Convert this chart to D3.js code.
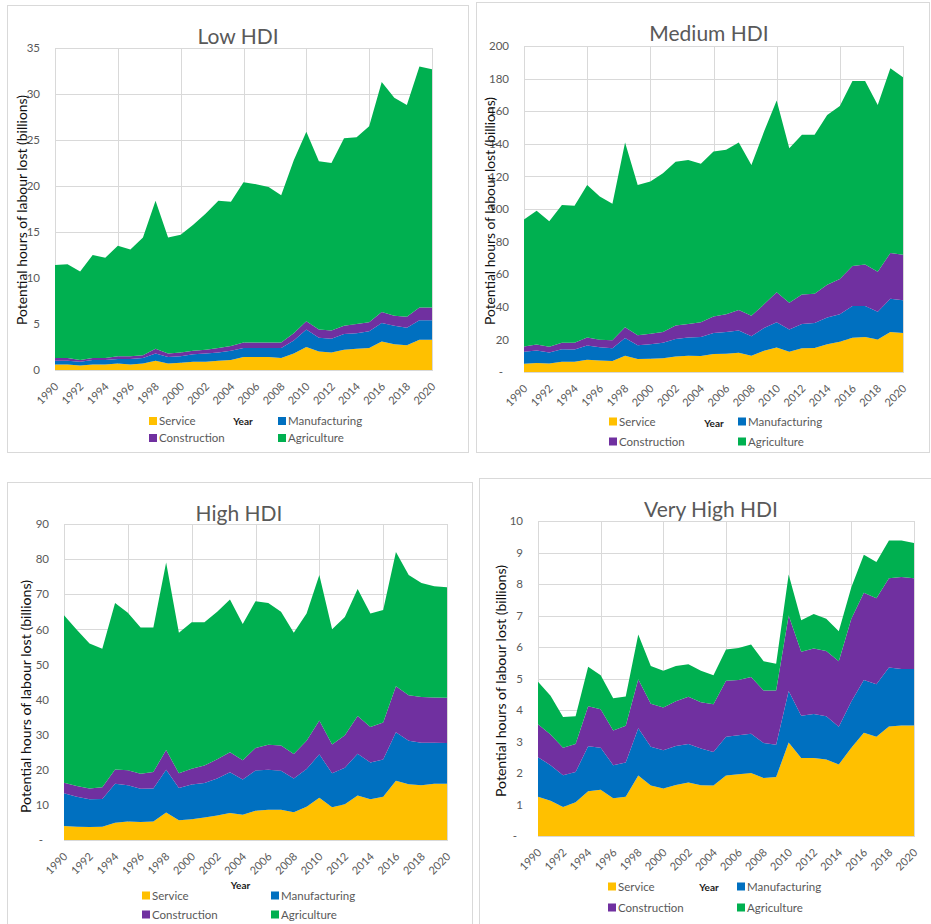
<!DOCTYPE html>
<html>
<head>
<meta charset="utf-8">
<script src="https://cdn.jsdelivr.net/npm/d3@7"></script>
<style>
  body { margin: 0; background: #fff; }
  svg { display: block; }
  text { font-family: Lato, "Noto Sans", "Liberation Sans", sans-serif; }
</style>
</head>
<body>
<svg id="chart" width="931" height="924"></svg>
<script>
// ---------- DATA ----------
const years = [1990,1991,1992,1993,1994,1995,1996,1997,1998,1999,2000,2001,2002,2003,2004,2005,
               2006,2007,2008,2009,2010,2011,2012,2013,2014,2015,2016,2017,2018,2019,2020];
const xTickYears = [1990,1992,1994,1996,1998,2000,2002,2004,2006,2008,2010,2012,2014,2016,2018,2020];
const seriesNames = ["Service", "Manufacturing", "Construction", "Agriculture"];

// Low HDI (billions of hours)
const lowService       = [0.6,0.6,0.5,0.6,0.6,0.7,0.6,0.7,1.0,0.7,0.8,0.9,0.9,1.0,1.1,1.4,1.4,1.4,1.3,1.8,2.5,2.0,1.9,2.2,2.3,2.4,3.1,2.8,2.7,3.3,3.3];
const lowManufacturing = [0.4,0.4,0.4,0.5,0.5,0.5,0.6,0.6,0.8,0.7,0.7,0.8,0.9,0.9,1.0,1.0,1.0,1.0,1.1,1.4,1.9,1.5,1.5,1.7,1.7,1.8,2.0,2.0,1.9,2.1,2.1];
const lowConstruction  = [0.3,0.3,0.2,0.2,0.2,0.3,0.3,0.3,0.5,0.4,0.4,0.4,0.4,0.5,0.5,0.6,0.6,0.6,0.6,0.8,0.9,0.9,0.9,0.9,1.0,1.0,1.2,1.1,1.2,1.4,1.4];
const lowAgriculture   = [10.1,10.2,9.6,11.2,10.9,12.0,11.6,12.8,16.1,12.6,12.8,13.7,14.8,16.0,15.7,17.4,17.2,16.9,16.0,18.8,20.6,18.3,18.2,20.4,20.3,21.3,25.0,23.7,23.0,26.2,25.9];

// Medium HDI
const medService       = [5.1,5.5,5.2,6.3,6.3,7.5,7.0,6.8,10.0,8.0,8.2,8.5,9.5,10.0,9.8,11.0,11.2,11.8,10.0,13.0,15.0,12.5,14.5,14.8,17.0,18.5,21.0,21.5,20.0,24.5,24.0];
const medManufacturing = [7.4,7.7,6.8,7.7,7.5,8.8,8.2,7.8,10.8,8.4,8.9,9.5,10.8,11.2,11.6,13.0,13.3,13.7,12.0,14.0,15.5,13.5,15.0,15.2,16.5,17.0,19.5,19.0,17.0,20.5,20.0];
const medConstruction  = [3.1,3.6,3.5,4.0,4.2,4.9,4.6,4.9,6.7,6.1,6.4,6.5,8.2,8.3,9.1,10.0,11.0,12.5,12.5,14.5,18.5,16.5,18.0,18.0,20.0,21.5,24.5,25.5,24.5,28.0,28.0];
const medAgriculture   = [77.9,82.2,77.0,84.5,84.0,93.6,87.9,83.7,113.3,92.3,93.4,97.5,100.5,100.5,97.2,101.2,100.8,102.8,92.5,106.0,117.5,94.8,98.0,97.5,104.2,106.2,113.5,112.5,102.3,113.3,108.8];

// High HDI
const highService       = [4.0,3.8,3.7,3.8,4.9,5.3,5.1,5.3,7.8,5.6,5.9,6.4,7.0,7.7,7.2,8.3,8.6,8.6,7.9,9.5,12.0,9.3,10.2,12.7,11.6,12.3,16.9,15.9,15.6,16.0,16.0];
const highManufacturing = [9.3,8.5,7.9,7.9,11.1,10.3,9.5,9.4,12.2,9.2,9.9,9.8,10.5,11.6,10.0,11.5,11.4,11.1,9.6,10.7,12.4,9.7,10.4,11.9,10.5,10.6,13.8,12.4,12.1,11.7,11.6];
const highConstruction  = [3.0,3.1,3.1,3.3,4.1,4.3,4.3,4.7,5.6,4.2,4.5,5.0,5.5,5.7,5.5,6.4,7.1,7.2,7.0,8.1,9.6,8.2,9.2,10.7,10.1,10.6,13.1,12.9,13.0,12.9,12.9];
const highAgriculture   = [47.7,44.5,41.3,39.5,47.4,44.8,41.6,41.1,53.4,40.0,41.7,40.8,42.0,43.5,38.8,41.8,40.4,38.1,34.5,36.2,41.5,32.8,33.7,36.2,32.3,32.0,38.2,34.3,32.5,31.7,31.5];

// Very High HDI
const vhighService       = [1.25,1.12,0.92,1.07,1.42,1.47,1.20,1.25,1.92,1.60,1.51,1.62,1.70,1.61,1.60,1.92,1.96,2.00,1.84,1.87,2.97,2.48,2.48,2.43,2.27,2.80,3.28,3.15,3.48,3.51,3.51];
const vhighManufacturing = [1.25,1.13,1.01,0.96,1.43,1.33,1.05,1.08,1.50,1.23,1.21,1.24,1.22,1.17,1.07,1.23,1.24,1.25,1.11,1.03,1.63,1.34,1.39,1.37,1.20,1.47,1.67,1.67,1.87,1.79,1.79];
const vhighConstruction  = [1.05,0.97,0.87,0.89,1.27,1.22,1.10,1.17,1.56,1.37,1.36,1.42,1.50,1.47,1.51,1.78,1.75,1.80,1.67,1.72,2.40,2.03,2.08,2.07,2.08,2.63,2.77,2.73,2.83,2.92,2.88];
const vhighAgriculture   = [1.35,1.23,0.98,0.88,1.25,1.08,1.02,0.93,1.42,1.20,1.17,1.12,1.03,1.00,0.92,0.99,1.02,1.03,0.93,0.85,1.30,1.00,1.10,1.03,0.95,1.00,1.21,1.15,1.20,1.16,1.12];

const lowTicks   = [0,5,10,15,20,25,30,35];
const medTicks   = [0,20,40,60,80,100,120,140,160,180,200];
const highTicks  = [0,10,20,30,40,50,60,70,80,90];
const vhighTicks = [0,1,2,3,4,5,6,7,8,9,10];

// ---------- STYLE / LAYOUT ----------
const colors = { Service: "#FFC000", Manufacturing: "#0070C0", Construction: "#7030A0", Agriculture: "#00B050" };
const yTitle = "Potential hours of labour lost (billions)";

const panels = [
  { title: "Low HDI", series: [lowService, lowManufacturing, lowConstruction, lowAgriculture], ticks: lowTicks, zero: "0",
    box: [7, 5, 468, 452], plot: [55, 48, 432, 370], titleX: 238, titleY: 44,
    yt: { x: 27, y: 210, len: 230 },
    lg: { x1: 149, x2: 278, y1: 421, y2: 438, yearX: 243, yearY: 425 } },
  { title: "Medium HDI", series: [medService, medManufacturing, medConstruction, medAgriculture], ticks: medTicks, zero: "-",
    box: [476, 2, 929, 452], plot: [524, 46, 903, 372], titleX: 709, titleY: 41,
    yt: { x: 495, y: 211, len: 228 },
    lg: { x1: 609, x2: 738, y1: 421.5, y2: 441.5, yearX: 714, yearY: 427 } },
  { title: "High HDI", series: [highService, highManufacturing, highConstruction, highAgriculture], ticks: highTicks, zero: "-",
    box: [7, 482, 472, 940], plot: [64, 524, 447, 840], titleX: 239, titleY: 520.5,
    yt: { x: 30.5, y: 696.5, len: 233 },
    lg: { x1: 142, x2: 271, y1: 895.5, y2: 914.5, yearX: 240.5, yearY: 889 } },
  { title: "Very High HDI", series: [vhighService, vhighManufacturing, vhighConstruction, vhighAgriculture], ticks: vhighTicks, zero: "-",
    box: [479, 478, 945, 940], plot: [538, 521, 914, 836], titleX: 711, titleY: 517,
    yt: { x: 506, y: 681, len: 232 },
    lg: { x1: 608, x2: 737, y1: 886.5, y2: 907.5, yearX: 709, yearY: 891 } }
];

const svg = d3.select("#chart");
svg.append("rect").attr("width", 931).attr("height", 924).attr("fill", "#fff");

panels.forEach(p => {
  const g = svg.append("g");
  const [bx0, by0, bx1, by1] = p.box;
  const [L, T, R, B] = p.plot;

  g.append("rect").attr("x", bx0 + 0.5).attr("y", by0 + 0.5)
    .attr("width", bx1 - bx0).attr("height", by1 - by0)
    .attr("fill", "#fff").attr("stroke", "#d9d9d9").attr("stroke-width", 1);

  const x = d3.scaleLinear().domain([years[0], years[years.length - 1]]).range([L, R]);
  const y = d3.scaleLinear().domain([0, p.ticks[p.ticks.length - 1]]).range([B, T]);

  // gridlines
  g.append("g").selectAll("line").data(p.ticks).join("line")
    .attr("x1", L).attr("x2", R).attr("y1", d => Math.round(y(d)) + 0.5).attr("y2", d => Math.round(y(d)) + 0.5)
    .attr("stroke", "#d9d9d9").attr("stroke-width", 1);
  g.append("g").selectAll("line").data(years.filter(v => v % 5 === 0)).join("line")
    .attr("x1", d => Math.round(x(d)) + 0.5).attr("x2", d => Math.round(x(d)) + 0.5).attr("y1", T).attr("y2", B)
    .attr("stroke", "#d9d9d9").attr("stroke-width", 1);
  g.append("rect").attr("x", L + 0.5).attr("y", T + 0.5).attr("width", R - L).attr("height", B - T)
    .attr("fill", "none").attr("stroke", "#d9d9d9");

  // stacked areas
  const rows = years.map((yr, i) => {
    const r = { year: yr };
    seriesNames.forEach((s, k) => { r[s] = p.series[k][i]; });
    return r;
  });
  const stacked = d3.stack().keys(seriesNames)(rows);
  const area = d3.area().x(d => x(d.data.year)).y0(d => y(d[0])).y1(d => y(d[1]));
  g.append("g").selectAll("path").data(stacked).join("path")
    .attr("d", area).attr("fill", d => colors[d.key]);

  // y axis
  const ya = g.append("g").attr("transform", `translate(${L},0)`)
    .call(d3.axisLeft(y).tickValues(p.ticks).tickSize(0).tickPadding(15)
      .tickFormat(d => d === 0 ? p.zero : d));
  ya.select(".domain").remove();
  ya.selectAll("text").attr("font-size", 11.5).attr("fill", "#595959")
    .style("font-family", "Lato, 'Noto Sans', sans-serif")
    .attr("dx", d => (d === 0 && p.zero === "-") ? -6 : 0);

  // x axis
  const xa = g.append("g").attr("transform", `translate(0,${B})`)
    .call(d3.axisBottom(x).tickValues(xTickYears).tickSize(0).tickFormat(d3.format("d")));
  xa.select(".domain").remove();
  xa.selectAll("text").attr("font-size", 11).attr("fill", "#595959")
    .style("font-family", "Lato, 'Noto Sans', sans-serif")
    .attr("x", 0).attr("y", 0).attr("dy", "0.35em").attr("text-anchor", "middle")
    .attr("transform", "translate(-8,23.5) rotate(-45)");

  // title
  g.append("text").attr("x", p.titleX).attr("y", p.titleY).attr("text-anchor", "middle")
    .attr("font-size", 21).attr("fill", "#595959").text(p.title);

  // y title
  g.append("text").attr("transform", `translate(${p.yt.x},${p.yt.y}) rotate(-90)`)
    .attr("text-anchor", "middle").attr("font-size", 13).attr("fill", "#111")
    .attr("textLength", p.yt.len).attr("lengthAdjust", "spacingAndGlyphs").text(yTitle);

  // legend
  const items = [
    { name: "Service", x: p.lg.x1, y: p.lg.y1 },
    { name: "Manufacturing", x: p.lg.x2, y: p.lg.y1 },
    { name: "Construction", x: p.lg.x1, y: p.lg.y2 },
    { name: "Agriculture", x: p.lg.x2, y: p.lg.y2 }
  ];
  const lg = g.append("g");
  items.forEach(it => {
    lg.append("rect").attr("x", it.x).attr("y", it.y - 4).attr("width", 8).attr("height", 8)
      .attr("fill", colors[it.name]);
    lg.append("text").attr("x", it.x + 10).attr("y", it.y).attr("dy", "0.35em")
      .attr("font-size", 11.5).attr("fill", "#595959").text(it.name);
  });
  g.append("text").attr("x", p.lg.yearX).attr("y", p.lg.yearY).attr("text-anchor", "middle")
    .attr("font-size", 10).attr("font-weight", "bold").attr("fill", "#1a1a1a").text("Year");
});
</script>
</body>
</html>
